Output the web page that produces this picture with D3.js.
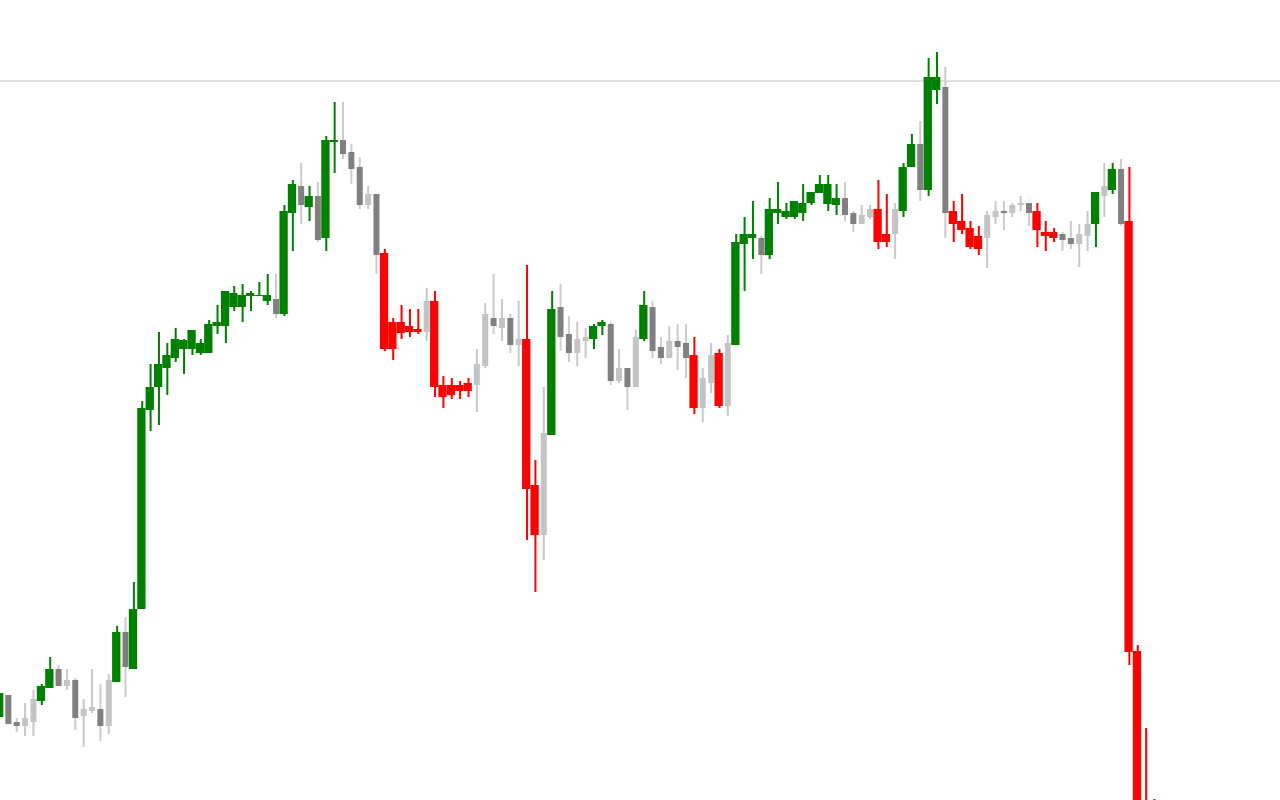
<!DOCTYPE html>
<html>
<head>
<meta charset="utf-8">
<script src="https://cdn.jsdelivr.net/npm/d3@7"></script>
<style>
  html, body { margin: 0; padding: 0; background: #ffffff; overflow: hidden; }
  svg { display: block; }
</style>
</head>
<body>
<svg id="chart" width="1280" height="800"></svg>
<script>
// ---- data (OHLC per bar, plus a colour class) ----
const opens = [8.3,10.5,7.8,7.4,7.8,9.9,11.2,13.1,11.4,12.0,8.4,8.9,9.1,7.4,11.8,16.8,13.1,19.1,39.0,41.3,
  43.2,44.2,45.1,45.1,44.7,44.7,47.4,47.4,49.3,49.3,50.4,50.4,49.9,50.1,48.6,58.7,61.4,59.3,60.4,56.2,
  65.8,66.0,64.8,63.3,59.5,60.6,54.7,47.8,47.8,47.4,47.1,46.8,49.9,41.5,41.5,41.5,41.7,41.5,43.4,48.2,
  47.2,48.2,45.5,46.1,31.5,26.5,36.5,49.3,46.6,44.7,45.9,46.1,47.4,47.6,41.9,43.2,41.3,46.1,49.3,45.3,
  44.2,45.9,45.7,44.5,39.2,41.7,44.7,39.4,45.5,55.6,56.2,56.2,54.5,58.7,58.3,58.3,58.7,59.7,60.7,59.6,
  59.5,60.2,58.7,57.6,58.3,59.1,56.6,56.6,58.9,63.3,65.6,61.0,71.0,71.3,58.9,57.9,57.2,56.4,56.2,58.3,
  58.9,58.7,59.5,59.7,58.9,56.8,56.8,56.6,56.2,55.6,56.4,57.6,60.4,61.0,63.1,57.9,14.9,-2.0,-1.0];
const highs = [10.7,10.5,8.2,9.7,11.0,11.6,14.3,13.5,13.1,12.2,10.1,13.1,11.6,12.6,17.4,18.3,21.8,39.9,43.6,46.8,
  45.7,47.2,46.1,47.0,46.1,48.0,49.5,50.9,51.4,51.6,50.9,51.8,52.6,52.6,59.5,62.0,63.7,61.4,61.8,66.4,
  69.8,69.8,65.6,64.3,61.4,60.6,55.1,48.2,49.5,49.1,49.1,51.2,50.9,42.4,42.2,41.9,42.2,45.1,49.7,52.6,
  50.1,48.6,49.9,53.5,34.0,41.3,50.9,51.6,48.4,47.8,47.2,47.6,48.0,47.8,45.1,43.2,47.0,50.9,49.9,46.3,
  47.4,47.6,47.6,46.3,43.2,45.7,45.1,46.5,56.6,58.3,59.9,56.4,60.2,61.8,59.7,59.9,61.6,60.8,62.5,62.5,
  61.6,61.8,58.9,59.5,59.5,62.0,60.6,59.7,63.7,66.6,67.9,74.2,74.8,73.3,59.9,60.6,57.9,57.4,58.9,59.9,
  59.9,59.7,60.4,59.7,59.7,57.9,57.2,56.8,57.9,57.6,58.9,60.8,63.7,63.7,64.1,63.3,15.5,7.2,0.1];
const lows = [8.3,7.6,6.8,6.4,6.4,9.5,11.2,11.4,11.0,7.0,5.3,8.7,5.9,6.6,11.8,10.3,13.1,19.1,36.9,37.5,
  40.5,43.8,42.6,44.5,44.5,44.7,46.6,45.7,48.9,47.8,48.9,50.4,49.5,48.2,48.4,54.9,57.6,57.9,55.8,54.9,
  62.7,64.1,61.6,59.1,59.1,52.6,44.9,44.0,46.1,46.3,46.6,45.9,40.3,39.2,40.1,40.1,40.3,38.8,43.2,46.6,
  45.9,44.7,43.4,26.0,20.8,24.0,36.5,44.9,43.8,43.4,44.2,45.1,46.5,41.5,41.7,39.0,41.3,45.9,44.2,43.6,
  44.2,43.0,42.2,38.6,37.8,40.7,39.2,38.4,45.5,50.9,54.1,52.6,54.1,57.6,58.1,58.1,57.9,59.5,60.7,58.9,
  58.5,57.9,56.8,57.6,58.1,55.1,55.3,54.1,58.3,63.3,59.9,60.4,69.6,56.2,55.8,56.6,55.1,54.5,53.2,57.6,
  57.0,58.3,58.9,57.4,55.3,54.9,55.8,54.9,55.1,53.3,54.9,55.3,58.3,60.6,57.4,13.5,-10.0,-10.0,-7.0];
const closes = [10.7,7.6,7.4,8.2,10.1,11.4,13.1,11.4,12.0,8.2,9.1,9.3,7.4,12.0,16.8,13.3,19.1,39.2,41.3,43.6,
  44.5,46.1,46.0,47.0,45.7,47.6,47.8,50.9,50.7,50.5,50.7,50.5,50.5,48.6,58.9,61.6,59.5,60.4,56.0,66.0,
  66.0,64.6,63.1,59.5,60.6,54.5,45.1,45.1,46.7,46.8,46.8,49.9,41.3,40.3,40.5,40.9,40.9,43.6,48.6,47.4,
  48.2,45.5,46.1,31.1,26.5,36.7,49.1,46.3,44.7,46.1,46.3,47.4,47.8,41.9,43.2,41.3,46.3,49.5,44.9,44.2,
  45.9,45.3,44.2,39.2,42.2,44.5,39.4,45.7,55.8,56.6,56.6,54.5,59.1,59.1,58.9,59.9,59.7,60.8,61.6,61.6,
  60.2,58.5,57.6,58.5,59.1,55.8,55.8,59.1,63.3,65.6,61.0,72.3,72.3,58.7,57.6,57.0,55.3,55.1,58.5,58.9,
  58.7,59.5,59.7,58.7,57.0,56.4,56.2,56.0,55.6,56.6,57.6,60.8,61.4,63.1,57.6,14.8,-6.0,-6.0,-5.0];
// G = strong up, l = weak up, d = weak down, R = strong down
const kinds = ("G d d l l G G d l d l l d l G d G G G G " +
  "G G G G G G G G G G G G G d G G d G d G " +
  "G d d d l d R R R R R l R R R R R l l d " +
  "l d l R R l G d d l l G G d l d l G d d " +
  "l d d R l l R l G G G d G G G G G G G G " +
  "G d d l l R R l G G d G G d R R R R l l " +
  "d l l d R R R d d l l G l G d R R R R").split(" ");
const refLevel = 71.9;

const bodyFill = { G: "#008000", R: "#ff0000", d: "#808080", l: "#c4c4c4" };
const wickFill = { G: "#008000", R: "#ff0000", d: "#cccccc", l: "#c8c8c8" };

const bars = opens.map((o, i) => ({ i, o, h: highs[i], l: lows[i], c: closes[i], k: kinds[i] }));

const W = 1280, H = 800;
const svg = d3.select("#chart");
const x = d3.scaleLinear().domain([0, 153]).range([0, W]);
const y = d3.scaleLinear().domain([0, 80]).range([H, 0]);

svg.append("rect").attr("width", W).attr("height", H).attr("fill", "#ffffff");

svg.append("line")
  .attr("x1", 0).attr("x2", W)
  .attr("y1", y(refLevel)).attr("y2", y(refLevel))
  .attr("stroke", "#e0e0e0").attr("stroke-width", 2);

const g = svg.append("g");
const candle = g.selectAll("g.candle").data(bars).join("g").attr("class", "candle");

candle.append("rect")
  .attr("x", d => x(d.i) - 1)
  .attr("width", 2)
  .attr("y", d => y(d.h))
  .attr("height", d => Math.max(1, y(d.l) - y(d.h)))
  .attr("fill", d => wickFill[d.k]);

candle.append("rect")
  .attr("x", d => (d.k === "G" || d.k === "R") ? x(d.i) - 5 : x(d.i) - 3)
  .attr("width", d => (d.k === "G" || d.k === "R") ? 8.3 : 6)
  .attr("y", d => y(Math.max(d.o, d.c)))
  .attr("height", d => Math.max(1, Math.abs(y(d.o) - y(d.c))))
  .attr("fill", d => bodyFill[d.k]);
</script>
</body>
</html>
